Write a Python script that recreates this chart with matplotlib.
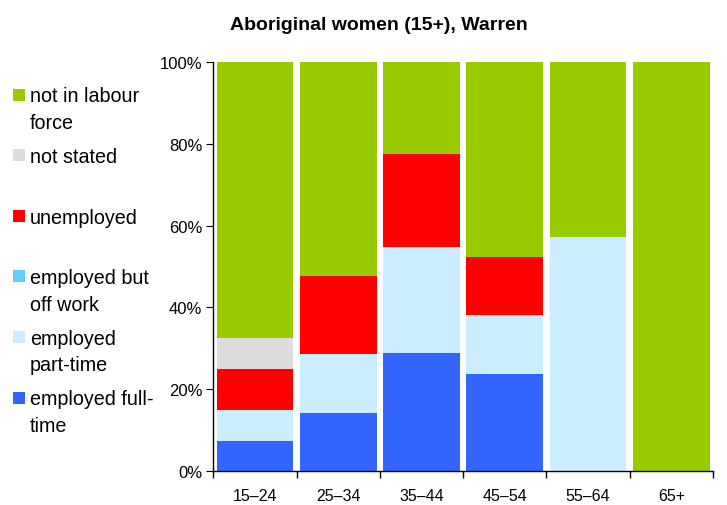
import matplotlib
matplotlib.use("Agg")
import matplotlib.pyplot as plt
from matplotlib.patches import Rectangle
import numpy as np

plt.rcParams['font.family'] = ['Liberation Sans', 'DejaVu Sans']

categories = ["15–24", "25–34", "35–44", "45–54", "55–64", "65+"]
full_time = [7.5, 14.3, 29.0, 23.8, 0.0, 0.0]
part_time = [7.5, 14.3, 25.8, 14.3, 57.1, 0.0]
off_work = [0.0, 0.0, 0.0, 0.0, 0.0, 0.0]
unemployed = [10.0, 19.0, 22.6, 14.3, 0.0, 0.0]
not_stated = [7.5, 0.0, 0.0, 0.0, 0.0, 0.0]
not_in_lf = [67.5, 52.4, 22.6, 47.6, 42.9, 100.0]

series = [
    ("employed full-\ntime", full_time, "#3366FF"),
    ("employed\npart-time", part_time, "#CCECFF"),
    ("employed but\noff work", off_work, "#66CCFF"),
    ("unemployed", unemployed, "#FF0000"),
    ("not stated", not_stated, "#DDDDDD"),
    ("not in labour\nforce", not_in_lf, "#99CC00"),
]

W, H = 727, 506
fig = plt.figure(figsize=(W / 100, H / 100), dpi=100)
ax = fig.add_axes([213.3 / W, (H - 472.3) / H, (713 - 213.3) / W, (472.3 - 62.7) / H])

x = np.arange(len(categories))
bottom = np.zeros(len(categories))
for name, vals, col in series:
    v = np.array(vals)
    ax.bar(x, v, bottom=bottom, width=0.92, color=col, edgecolor='none')
    bottom += v

ax.set_xlim(-0.5, len(categories) - 0.5)
ax.set_ylim(0, 100)
ax.set_yticks([0, 20, 40, 60, 80, 100])
ax.set_yticklabels([f"{t}%" for t in [0, 20, 40, 60, 80, 100]])
ax.set_xticks(x)
ax.set_xticklabels(categories)
ax.set_xticks(np.arange(len(categories) + 1) - 0.5, minor=True)
ax.tick_params(axis='x', which='major', length=0, labelsize=11.5, pad=12)
ax.tick_params(axis='x', which='minor', length=5, direction='out', width=1)
ax.tick_params(axis='y', length=5, direction='out', labelsize=12, pad=3)
for s in ['top', 'right']:
    ax.spines[s].set_visible(False)
for s in ['left', 'bottom']:
    ax.spines[s].set_color('black')
    ax.spines[s].set_linewidth(1)

fig.text(379 / W, 1 - 25 / H, "Aboriginal women (15+), Warren", ha='center', va='center',
         fontsize=14, fontweight='bold')

# legend (top to bottom: reverse of stacking order)
leg_items = list(reversed(series))
y0 = 95.5
step = 60.6
for i, (name, vals, col) in enumerate(leg_items):
    yc = y0 + i * step
    fig.add_artist(Rectangle((13 / W, 1 - (yc + 6) / H), 12 / W, 12 / H,
                             transform=fig.transFigure, facecolor=col, edgecolor='none'))
    fig.text(30 / W, 1 - (yc - 8) / H, name, ha='left', va='top', fontsize=14.2,
             linespacing=1.5)

fig.savefig("out.png", dpi=100)
